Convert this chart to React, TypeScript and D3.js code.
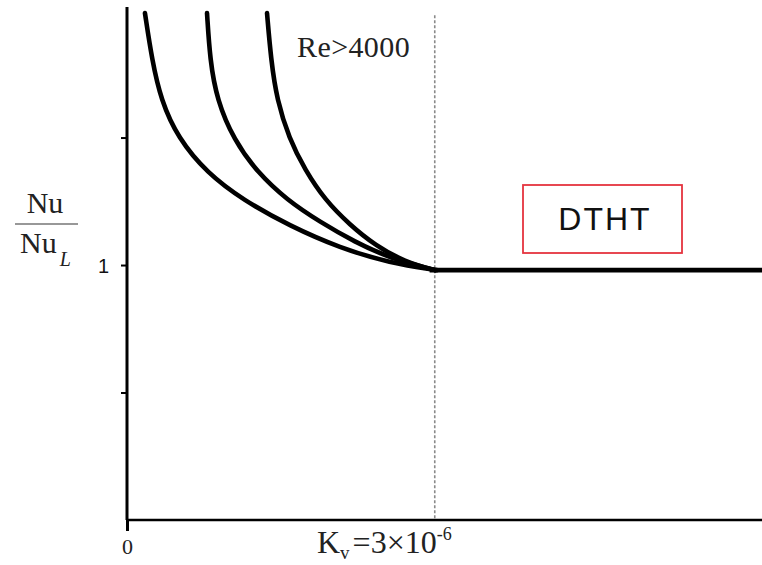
import React, { useEffect, useRef } from "react";
import * as d3 from "d3";

// Roughness Kv in units of 1e-6, normalised Nusselt number Nu/Nu_L
const curve1Kv = [0.175, 0.244, 0.331, 0.497, 0.78, 1.131, 1.589, 2.076, 2.563, 3.021];
const curve1Nu = [1.988, 1.804, 1.647, 1.498, 1.361, 1.255, 1.153, 1.067, 1.008, 0.98];
const curve2Kv = [0.78, 0.809, 0.877, 1.043, 1.267, 1.559, 1.881, 2.222, 2.563, 3.002];
const curve2Nu = [1.988, 1.804, 1.647, 1.49, 1.365, 1.255, 1.169, 1.09, 1.027, 0.98];
const curve3Kv = [1.365, 1.404, 1.462, 1.579, 1.735, 1.93, 2.174, 2.417, 2.71, 3.002];
const curve3Nu = [1.988, 1.804, 1.647, 1.498, 1.373, 1.255, 1.157, 1.078, 1.012, 0.98];
const plateauKv = [2.95, 6.19];
const plateauNu = [0.98, 0.98];

const criticalKv = 3;
const yTickValues = [0.5, 1, 1.5];
const yTickLabels: Record<number, string> = { 1: "1" };

const W = 762;
const H = 565;
const left = 127;
const right = 762;
const bottom = 520;
const top = 7;

export default function App() {
  const axesRef = useRef<SVGGElement>(null);

  const x = d3.scaleLinear().domain([0, 6.19]).range([left, right]);
  const y = d3.scaleLinear().domain([0, 2.012]).range([bottom, top]);

  const line = d3
    .line<[number, number]>()
    .x((d) => x(d[0]))
    .y((d) => y(d[1]))
    .curve(d3.curveBasis);

  const zip = (a: number[], b: number[]) => a.map((v, i) => [v, b[i]] as [number, number]);
  const curves = [
    zip(curve1Kv, curve1Nu),
    zip(curve2Kv, curve2Nu),
    zip(curve3Kv, curve3Nu),
  ];

  useEffect(() => {
    const g = d3.select(axesRef.current);
    g.selectAll("*").remove();

    const yAxis = d3
      .axisLeft(y)
      .tickValues(yTickValues)
      .tickSize(6)
      .tickFormat((d) => yTickLabels[d as number] ?? "");
    const ya = g.append("g").attr("transform", `translate(${left},0)`).call(yAxis);
    ya.select(".domain").remove();
    ya.selectAll(".tick line").attr("stroke", "#000").attr("stroke-width", 2);
    ya.selectAll(".tick text")
      .attr("font-family", "Liberation Sans, Arial, sans-serif")
      .attr("font-size", 20)
      .attr("fill", "#111")
      .attr("x", -18)
      .attr("dy", "0.35em");

    const xAxis = d3
      .axisBottom(x)
      .tickValues([0])
      .tickSize(11)
      .tickFormat(() => "0");
    const xa = g.append("g").attr("transform", `translate(0,${bottom})`).call(xAxis);
    xa.select(".domain").remove();
    xa.selectAll(".tick line").attr("stroke", "#000").attr("stroke-width", 3);
    xa.selectAll(".tick text")
      .attr("font-family", "Liberation Serif, Times New Roman, serif")
      .attr("font-size", 22)
      .attr("fill", "#222")
      .attr("y", 18)
      .attr("dy", "0.71em");

    // axis lines
    g.append("line")
      .attr("x1", left).attr("x2", left)
      .attr("y1", y(2.012)).attr("y2", bottom)
      .attr("stroke", "#000").attr("stroke-width", 3);
    g.append("line")
      .attr("x1", left).attr("x2", right)
      .attr("y1", bottom).attr("y2", bottom)
      .attr("stroke", "#000").attr("stroke-width", 2.5);
  }, []);

  return (
    <svg
      width={W}
      height={H}
      style={{ position: "absolute", left: 0, top: 0, background: "#fff" }}
    >
      <rect width={W} height={H} fill="#fff" />
      {/* critical roughness marker */}
      <line
        x1={x(criticalKv)}
        x2={x(criticalKv)}
        y1={y(1.98)}
        y2={bottom}
        stroke="#8a8a8a"
        strokeWidth={1.6}
        strokeDasharray="3,2"
      />
      {curves.map((c, i) => (
        <path key={i} d={line(c) ?? ""} fill="none" stroke="#000" strokeWidth={4.6} strokeLinecap="round" />
      ))}
      <path
        d={line(zip(plateauKv, plateauNu)) ?? ""}
        fill="none"
        stroke="#000"
        strokeWidth={4.6}
      />
      <g ref={axesRef} />

      {/* labels */}
      <text x={297} y={57} fontFamily="Liberation Serif, Times New Roman, serif" fontSize={30} letterSpacing={0.4} fill="#222">
        Re&gt;4000
      </text>

      <rect x={523} y={185} width={159} height={68} fill="none" stroke="#e5343f" strokeWidth={1.8} />
      <text
        x={605}
        y={230}
        textAnchor="middle"
        fontFamily="Liberation Sans, Arial, sans-serif"
        fontSize={32}
        letterSpacing={2}
        fill="#111"
      >
        DTHT
      </text>

      <g fontFamily="Liberation Serif, Times New Roman, serif" fill="#222">
        <text x={45} y={213} textAnchor="middle" fontSize={30}>Nu</text>
        <line x1={15} x2={78} y1={224} y2={224} stroke="#333" strokeWidth={1.2} />
        <text x={20} y={253} fontSize={30}>
          Nu
          <tspan dx={3} dy={13} fontSize={20} fontStyle="italic">L</tspan>
        </text>
      </g>

      <g fontFamily="Liberation Serif, Times New Roman, serif" fill="#222">
        <text x={317} y={553} fontSize={32}>
          K
          <tspan dy={6} fontSize={19}>v</tspan>
          <tspan dx={3} dy={-6} fontSize={32}>=3×10</tspan>
          <tspan dy={-13} fontSize={18}>-6</tspan>
        </text>
      </g>
    </svg>
  );
}
